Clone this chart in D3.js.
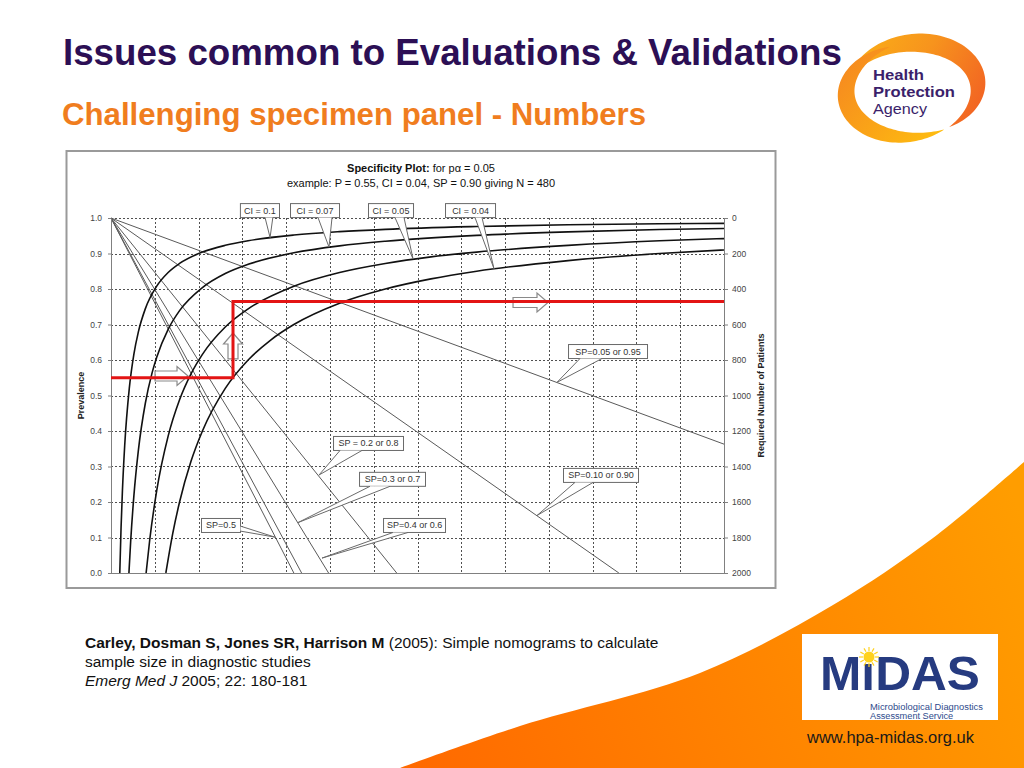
<!DOCTYPE html>
<html>
<head>
<meta charset="utf-8">
<script src="https://cdn.jsdelivr.net/npm/d3@7"></script>
<style>
  body { margin: 0; background: #fff; }
  svg { display: block; }
  text { font-family: "Liberation Sans", Arial, sans-serif; }
</style>
</head>
<body>
<svg id="c" width="1024" height="768"></svg>
<script>
// ---------------- DATA ----------------
// Left axis: prevalence; right axis: required number of patients
const prevalenceTicks = [0.0, 0.1, 0.2, 0.3, 0.4, 0.5, 0.6, 0.7, 0.8, 0.9, 1.0];
const patientTicks = [0, 200, 400, 600, 800, 1000, 1200, 1400, 1600, 1800, 2000];

// hidden horizontal nomogram axis (no labels), extent and number of grid divisions
const X_MAX = 13.41;
const GRID_DIVS = 14;

// Confidence-interval curves: [x, required number of patients]
const ciLabels = ["CI = 0.1", "CI = 0.07", "CI = 0.05", "CI = 0.04"];
const ci010 = [[0.192,2000],[0.22,1745],[0.25,1536],[0.3,1280],[0.4,960],[0.5,768],[0.6,640],[0.75,512],[1,384],[1.25,307],[1.5,256],[2,192],[2.5,154],[3,128],[4,96],[5,77],[6,64],[8,48],[10,38],[12,32],[13.41,30]];
const ci007 = [[0.392,2000],[0.43,1823],[0.5,1567],[0.6,1306],[0.75,1045],[0.9,871],[1,784],[1.25,627],[1.5,522],[2,392],[2.5,313],[3,261],[4,196],[5,157],[6,131],[8,98],[10,78],[12,65],[13.41,59]];
const ci005 = [[0.768,2000],[0.85,1807],[1,1536],[1.25,1229],[1.5,1024],[1.75,878],[2,768],[2.5,614],[3,512],[4,384],[5,307],[6,256],[7,219],[8,192],[10,154],[12,128],[13.41,116]];
const ci004 = [[1.2,2000],[1.35,1778],[1.5,1600],[1.75,1371],[2,1200],[2.5,960],[3,800],[3.5,686],[4,600],[5,480],[6,400],[7,343],[8,300],[10,240],[12,200],[13.41,180]];
const ciSeries = [ci010, ci007, ci005, ci004];

// Specificity lines: start at prevalence 1.0 (x = 0) and reach prevalence 0 at these x values
const spValues = [0.5, 0.4, 0.3, 0.2, 0.1, 0.05];
const spZeroX = [4.0, 4.17, 4.76, 6.25, 11.11, 21.05];

// Worked example (red path): P = 0.55 -> vertical -> N = 480 read on right axis
const exampleX = [0, 2.669, 2.669, 13.41];
const exampleP = [0.55, 0.55, 0.765, 0.765];

// ---------------- ANNOTATION LAYOUT (data coordinates) ----------------
const callouts = [
  {text:"CI = 0.1",        box:[2.82, 3.675, 1.042], tip:[3.48, 0.945], base:[3.37, 3.54], side:"bottom"},
  {text:"CI = 0.07",       box:[3.916,4.988, 1.042], tip:[4.769,0.918], base:[4.529,4.835], side:"bottom"},
  {text:"CI = 0.05",       box:[5.622,6.607, 1.042], tip:[6.607,0.885], base:[6.213,6.41], side:"bottom"},
  {text:"CI = 0.04",       box:[7.307,8.401, 1.042], tip:[8.379,0.857], base:[7.963,8.116], side:"bottom"},
  {text:"SP=0.05 or 0.95", box:[9.998,11.726,0.645], tip:[9.757,0.537], base:[10.26,10.74], side:"bottom"},
  {text:"SP=0.10 or 0.90", box:[9.888,11.529,0.296], tip:[9.32, 0.162], base:[10.15,10.545], side:"bottom"},
  {text:"SP = 0.2 or 0.8", box:[4.857,6.388, 0.386], tip:[4.55, 0.276], base:[5.01, 5.49], side:"bottom"},
  {text:"SP=0.3 or 0.7",   box:[5.426,6.869, 0.285], tip:[4.091,0.142], base:[5.666,6.104], side:"bottom"},
  {text:"SP=0.4 or 0.6",   box:[5.951,7.307, 0.155], tip:[4.616,0.042], base:[6.169,6.497], side:"bottom"},
  {text:"SP=0.5",          box:[1.969,2.822, 0.155], tip:[3.588,0.101], base:[0.132,0.118], side:"right"}
];
const arrows = [
  {from:[0.963,0.555], to:[1.685,0.555]},
  {from:[2.669,0.603], to:[2.669,0.676]},
  {from:[8.795,0.762], to:[9.56,0.762]}
];

// ---------------- DRAWING ----------------
const svg = d3.select("#c");
const defs = svg.append("defs");

// orange sweep bottom-right
const g1 = defs.append("linearGradient").attr("id","sweep").attr("gradientUnits","userSpaceOnUse")
  .attr("x1",420).attr("y1",760).attr("x2",1024).attr("y2",520);
g1.append("stop").attr("offset",0).attr("stop-color","#FF6A00");
g1.append("stop").attr("offset",1).attr("stop-color","#FF9D00");
const sweepEdge = [[400,768],[520,726],[700,673],[833,605],[933,538],[1024,462]];
svg.append("path")
  .attr("d", d3.line().curve(d3.curveCatmullRom)(sweepEdge) + "L1024,768Z")
  .attr("fill","url(#sweep)");

// slide titles
svg.append("text").attr("x",63).attr("y",65).attr("font-size",36.7).attr("font-weight","bold")
  .attr("fill","#2C0F55").text("Issues common to Evaluations & Validations");
svg.append("text").attr("x",62).attr("y",125).attr("font-size",31.2).attr("font-weight","bold")
  .attr("fill","#F07D1E").text("Challenging specimen panel - Numbers");

// HPA logo
function crescent(cx, cy, rx, ry, rotDeg, a0, a1, maxT, n = 80) {
  const rot = rotDeg * Math.PI / 180, outer = [], inner = [];
  for (let i = 0; i <= n; i++) {
    const t = i / n, a = (a0 + (a1 - a0) * t) * Math.PI / 180;
    const th = maxT * Math.pow(Math.sin(Math.PI * t), 0.9);
    const pt = r => {
      const ex = (rx + r) * Math.cos(a), ey = (ry + r) * Math.sin(a);
      return [cx + ex * Math.cos(rot) - ey * Math.sin(rot), cy + ex * Math.sin(rot) + ey * Math.cos(rot)];
    };
    outer.push(pt(th / 2)); inner.push(pt(-th / 2));
  }
  return d3.line()(outer.concat(inner.reverse())) + "Z";
}
const gu = defs.append("linearGradient").attr("id","hpaU").attr("gradientUnits","userSpaceOnUse")
  .attr("x1",850).attr("y1",40).attr("x2",990).attr("y2",120);
gu.append("stop").attr("offset",0).attr("stop-color","#FBB017");
gu.append("stop").attr("offset",0.45).attr("stop-color","#F7941D");
gu.append("stop").attr("offset",1).attr("stop-color","#F15A24");
const gl = defs.append("linearGradient").attr("id","hpaL").attr("gradientUnits","userSpaceOnUse")
  .attr("x1",850).attr("y1",60).attr("x2",950).attr("y2",145);
gl.append("stop").attr("offset",0).attr("stop-color","#F68B1F");
gl.append("stop").attr("offset",1).attr("stop-color","#FFC20E");
svg.append("path").attr("d", crescent(912, 90, 66, 47, -6, 200, 420, 20)).attr("fill","url(#hpaU)");
svg.append("path").attr("d", crescent(912, 90, 66, 47, -6, 255, 65, 18)).attr("fill","url(#hpaL)");
const hpa = svg.append("g").attr("fill","#3B1F6B").attr("font-size",15);
hpa.append("text").attr("x",873).attr("y",80).attr("font-weight","bold")
  .attr("textLength",51).attr("lengthAdjust","spacingAndGlyphs").text("Health");
hpa.append("text").attr("x",873).attr("y",97).attr("font-weight","bold")
  .attr("textLength",82).attr("lengthAdjust","spacingAndGlyphs").text("Protection");
hpa.append("text").attr("x",873).attr("y",114)
  .attr("textLength",54).attr("lengthAdjust","spacingAndGlyphs").text("Agency");

// chart frame
svg.append("rect").attr("x",66.5).attr("y",151).attr("width",709).attr("height",437)
  .attr("fill","#fff").attr("stroke","#9a9a9a").attr("stroke-width",2);

// chart title
const t1 = svg.append("text").attr("x",421).attr("y",172).attr("text-anchor","middle").attr("font-size",11).attr("fill","#111");
t1.append("tspan").attr("font-weight","bold").text("Specificity Plot:");
t1.append("tspan").text(" for p\u03B1 = 0.05");
svg.append("text").attr("x",421).attr("y",187).attr("text-anchor","middle").attr("font-size",11).attr("fill","#111")
  .text("example: P = 0.55, CI = 0.04, SP = 0.90 giving N = 480");

// scales
const x = d3.scaleLinear().domain([0, X_MAX]).range([111, 724]);
const yP = d3.scaleLinear().domain([0, 1]).range([573, 218]);
const yN = d3.scaleLinear().domain([0, 2000]).range([218, 573]);

defs.append("clipPath").attr("id","plot").append("rect")
  .attr("x",x(0)).attr("y",yP(1)-2).attr("width",x(X_MAX)-x(0)).attr("height",yP(0)-yP(1)+2);

// grid
const grid = svg.append("g").attr("stroke","#505050").attr("stroke-width",1).attr("stroke-dasharray","2,2");
d3.range(1, GRID_DIVS).forEach(i => {
  const gx = Math.round(x(i * X_MAX / GRID_DIVS)) + 0.5;
  grid.append("line").attr("x1",gx).attr("x2",gx).attr("y1",yP(1)).attr("y2",yP(0));
});
prevalenceTicks.filter(d => d > 0).forEach(d => {
  const gy = Math.round(yP(d)) + 0.5;
  grid.append("line").attr("x1",x(0)).attr("x2",x(X_MAX)).attr("y1",gy).attr("y2",gy);
});

// specificity lines
const lineXY = d3.line().x(d => x(d[0])).y(d => yP(d[1]));
const spG = svg.append("g").attr("clip-path","url(#plot)");
spValues.forEach((sp, i) => {
  spG.append("path").attr("d", lineXY([[0, 1], [spZeroX[i], 0]]))
    .attr("fill","none").attr("stroke","#5a5a5a").attr("stroke-width",1);
});

// CI curves
const lineN = d3.line().x(d => x(d[0])).y(d => yN(d[1])).curve(d3.curveMonotoneX);
const ciG = svg.append("g").attr("clip-path","url(#plot)");
ciSeries.forEach(s => {
  ciG.append("path").attr("d", lineN(s)).attr("fill","none").attr("stroke","#111").attr("stroke-width",1.6);
});

// axes
const gL = svg.append("g").attr("transform",`translate(${x(0)},0)`)
  .call(d3.axisLeft(yP).tickValues(prevalenceTicks).tickFormat(d3.format(".1f")).tickSize(3).tickSizeOuter(0).tickPadding(6));
const gR = svg.append("g").attr("transform",`translate(${x(X_MAX)},0)`)
  .call(d3.axisRight(yN).tickValues(patientTicks).tickFormat(d3.format("d")).tickSize(4).tickSizeOuter(0).tickPadding(4));
[gL, gR].forEach(g => {
  g.select(".domain").attr("stroke","#808080");
  g.selectAll(".tick line").attr("stroke","#808080");
  g.selectAll(".tick text").attr("font-size",8.5).attr("fill","#444").attr("font-family",'"Liberation Sans", Arial, sans-serif');
});
svg.append("line").attr("x1",x(0)).attr("x2",x(X_MAX)).attr("y1",yP(0)+0.5).attr("y2",yP(0)+0.5).attr("stroke","#808080");

svg.append("text").attr("transform",`translate(84,${(yP(0)+yP(1))/2}) rotate(-90)`)
  .attr("text-anchor","middle").attr("font-size",9).attr("font-weight","bold").attr("fill","#222").text("Prevalence");
svg.append("text").attr("transform",`translate(764,${(yP(0)+yP(1))/2}) rotate(-90)`)
  .attr("text-anchor","middle").attr("font-size",9).attr("font-weight","bold").attr("fill","#222").text("Required Number of Patients");

// hollow block arrows
arrows.forEach(a => {
  const p0 = [x(a.from[0]), yP(a.from[1])], p1 = [x(a.to[0]), yP(a.to[1])];
  const L = Math.hypot(p1[0]-p0[0], p1[1]-p0[1]);
  const ang = Math.atan2(p1[1]-p0[1], p1[0]-p0[0]) * 180 / Math.PI;
  const hb = 5, hh = 9.5, hl = 11;
  const shape = [[0,-hb],[L-hl,-hb],[L-hl,-hh],[L,0],[L-hl,hh],[L-hl,hb],[0,hb]];
  svg.append("path").attr("d", d3.line()(shape) + "Z")
    .attr("transform",`translate(${p0[0]},${p0[1]}) rotate(${ang})`)
    .attr("fill","#fff").attr("fill-opacity",0.6).attr("stroke","#8a8a8a").attr("stroke-width",1.2);
});

// red worked-example path
svg.append("path").attr("d", lineXY(exampleX.map((v, i) => [v, exampleP[i]])))
  .attr("fill","none").attr("stroke","#E31414").attr("stroke-width",3);

// callouts
const BOX_H = 14;
callouts.forEach(c => {
  const bx0 = x(c.box[0]), bx1 = x(c.box[1]), by0 = yP(c.box[2]), by1 = by0 + BOX_H;
  const g = svg.append("g");
  g.append("rect").attr("x",bx0+0.5).attr("y",by0+0.5).attr("width",bx1-bx0).attr("height",BOX_H)
    .attr("fill","#fff").attr("stroke","#6a6a6a").attr("stroke-width",1);
  const tip = [x(c.tip[0]), yP(c.tip[1])];
  let b1, b2;
  if (c.side === "bottom") { b1 = [x(c.base[0]), by1 + 0.5]; b2 = [x(c.base[1]), by1 + 0.5]; }
  else { b1 = [bx1 + 0.5, yP(c.base[0])]; b2 = [bx1 + 0.5, yP(c.base[1])]; }
  g.append("path").attr("d", d3.line()([b1, tip, b2]) + "Z").attr("fill","#fff").attr("stroke","none");
  g.append("path").attr("d", d3.line()([b1, tip, b2])).attr("fill","none").attr("stroke","#6a6a6a").attr("stroke-width",1);
  g.append("text").attr("x",(bx0+bx1)/2+0.5).attr("y",by0+10.5).attr("text-anchor","middle")
    .attr("font-size",9).attr("fill","#333").text(c.text);
});

// citation
const cit = svg.append("g").attr("font-size",15.5).attr("fill","#111");
const c1 = cit.append("text").attr("x",85).attr("y",648);
c1.append("tspan").attr("font-weight","bold").text("Carley, Dosman S, Jones SR, Harrison M");
c1.append("tspan").text(" (2005): Simple nomograms to calculate");
cit.append("text").attr("x",85).attr("y",667).text("sample size in diagnostic studies");
const c3 = cit.append("text").attr("x",85).attr("y",686);
c3.append("tspan").attr("font-style","italic").text("Emerg Med J");
c3.append("tspan").text(" 2005; 22: 180-181");

// MiDAS logo
svg.append("rect").attr("x",802).attr("y",634).attr("width",196).attr("height",86).attr("fill","#fff");
svg.append("text").attr("x",820).attr("y",690).attr("font-size",48.5).attr("font-weight","bold")
  .attr("textLength",160).attr("lengthAdjust","spacingAndGlyphs").attr("fill","#263B80").text("MiDAS");
const sun = svg.append("g").attr("transform","translate(869,657)");
d3.range(12).forEach(i => {
  const a = i * Math.PI / 6;
  sun.append("line").attr("x1",6*Math.cos(a)).attr("y1",6*Math.sin(a)).attr("x2",10*Math.cos(a)).attr("y2",10*Math.sin(a))
    .attr("stroke","#FFD21F").attr("stroke-width",1.2);
});
sun.append("circle").attr("r",5.5).attr("fill","#FFD21F");
svg.append("text").attr("x",870).attr("y",709.5).attr("font-size",9.2).attr("fill","#2E4A8C")
  .attr("textLength",113).attr("lengthAdjust","spacingAndGlyphs").text("Microbiological Diagnostics");
svg.append("text").attr("x",870).attr("y",719).attr("font-size",9.2).attr("fill","#2E4A8C").text("Assessment Service");
svg.append("text").attr("x",807).attr("y",743).attr("font-size",16.5).attr("fill","#1a1a1a").text("www.hpa-midas.org.uk");
</script>
</body>
</html>
